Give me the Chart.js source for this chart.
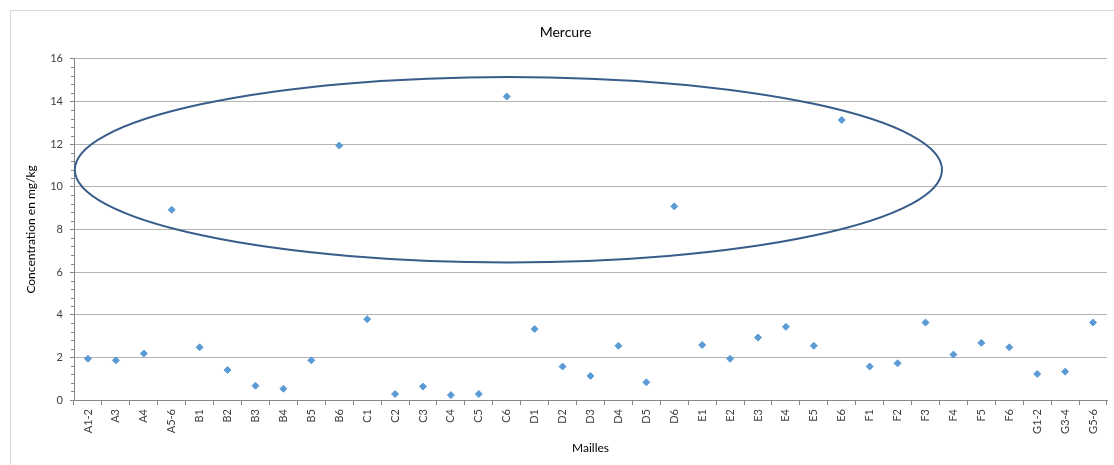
<!DOCTYPE html>
<html>
<head>
<meta charset="utf-8">
<script src="https://cdn.jsdelivr.net/npm/chart.js@4/dist/chart.umd.min.js"></script>
<style>
  body { margin: 0; background: #fff; overflow: hidden; }
  #frame { position: absolute; left: 10px; top: 10px; width: 1200px; height: 600px; border: 1px solid #d9d9d9; }
  #wrap { position: absolute; left: 0; top: 0; width: 1114px; height: 465px; }
</style>
</head>
<body>
<div id="frame"></div>
<div id="wrap"><canvas id="chart" width="1114" height="465"></canvas></div>
<script>
const mailles = ['A1-2', 'A3', 'A4', 'A5-6',
  'B1', 'B2', 'B3', 'B4', 'B5', 'B6',
  'C1', 'C2', 'C3', 'C4', 'C5', 'C6',
  'D1', 'D2', 'D3', 'D4', 'D5', 'D6',
  'E1', 'E2', 'E3', 'E4', 'E5', 'E6',
  'F1', 'F2', 'F3', 'F4', 'F5', 'F6',
  'G1-2', 'G3-4', 'G5-6'];

const mercure = [1.93, 1.86, 2.18, 8.92,
  2.47, 1.41, 0.67, 0.53, 1.86, 11.93,
  3.79, 0.28, 0.63, 0.23, 0.28, 14.23,
  3.33, 1.57, 1.13, 2.54, 0.83, 9.08,
  2.58, 1.93, 2.93, 3.43, 2.54, 13.13,
  1.57, 1.72, 3.63, 2.13, 2.68, 2.47,
  1.22, 1.33, 3.63];

const yTicks = [0, 2, 4, 6, 8, 10, 12, 14, 16];
const yMinorStep = 0.4;

// highlight ellipse, in axis units (category index / mg/kg)
const ellipseCenter = [15.06, 10.8];
const ellipseRadius = [15.53, 4.35];

const extras = {
  id: 'extras',
  afterDraw(chart) {
    const ctx = chart.ctx;
    const x = chart.scales.x;
    const y = chart.scales.y;

    // minor ticks on the value axis
    ctx.save();
    ctx.strokeStyle = '#868686';
    ctx.lineWidth = 1;
    const steps = Math.round((y.max - y.min) / yMinorStep);
    for (let i = 1; i < steps; i++) {
      if (i % 5 === 0) continue;
      const py = Math.round(y.getPixelForValue(y.min + i * yMinorStep)) + 0.5;
      ctx.beginPath();
      ctx.moveTo(x.left - 3, py);
      ctx.lineTo(x.left, py);
      ctx.stroke();
    }
    ctx.restore();

    // ellipse around the high values
    const cx = x.getPixelForValue(ellipseCenter[0]);
    const cy = y.getPixelForValue(ellipseCenter[1]);
    const rx = Math.abs(x.getPixelForValue(ellipseCenter[0] + ellipseRadius[0]) - cx);
    const ry = Math.abs(y.getPixelForValue(ellipseCenter[1] + ellipseRadius[1]) - cy);
    ctx.save();
    ctx.strokeStyle = '#385d8a';
    ctx.lineWidth = 2;
    ctx.beginPath();
    ctx.ellipse(cx, cy, rx, ry, 0, 0, Math.PI * 2);
    ctx.stroke();
    ctx.restore();
  }
};

new Chart(document.getElementById('chart'), {
  type: 'line',
  data: {
    labels: mailles,
    datasets: [{
      label: 'Mercure',
      data: mercure,
      showLine: false,
      pointStyle: 'rectRot',
      pointRadius: 3.5,
      pointBorderWidth: 1,
      pointBackgroundColor: '#5b9bd5',
      pointBorderColor: '#5b9bd5'
    }]
  },
  options: {
    responsive: false,
    animation: false,
    events: [],
    layout: { padding: { left: 24, right: 7, top: 0, bottom: 0 } },
    plugins: {
      legend: { display: false },
      tooltip: { enabled: false },
      title: {
        display: true,
        text: 'Mercure',
        color: '#000',
        font: { family: 'Lato', size: 14, weight: 'normal' },
        padding: { top: 24, bottom: 18 }
      }
    },
    scales: {
      x: {
        type: 'category',
        offset: true,
        afterFit(scale) { scale.height = 65; },
        grid: { offset: true, drawOnChartArea: false, drawTicks: true, tickLength: 5, color: '#868686' },
        border: { color: '#868686', width: 1 },
        ticks: {
          autoSkip: false,
          minRotation: 90,
          maxRotation: 90,
          padding: 4,
          color: '#404040',
          font: { family: 'Lato', size: 11 }
        },
        title: {
          display: true,
          text: 'Mailles',
          color: '#000',
          font: { family: 'Lato', size: 12 },
          padding: { top: 0, bottom: 10 }
        }
      },
      y: {
        min: 0,
        max: 16,
        afterFit(scale) { scale.width = 50; },
        afterBuildTicks(scale) { scale.ticks = yTicks.map(v => ({ value: v })); },
        grid: { color: '#b3b3b3', tickColor: '#868686', tickLength: 4 },
        border: { color: '#868686', width: 1 },
        ticks: {
          padding: 7,
          color: '#404040',
          font: { family: 'Lato', size: 11 }
        },
        title: {
          display: true,
          text: 'Concentration en mg/kg',
          color: '#000',
          font: { family: 'Lato', size: 12 },
          padding: { top: 0, bottom: 0 }
        }
      }
    }
  },
  plugins: [extras]
});
</script>
</body>
</html>
